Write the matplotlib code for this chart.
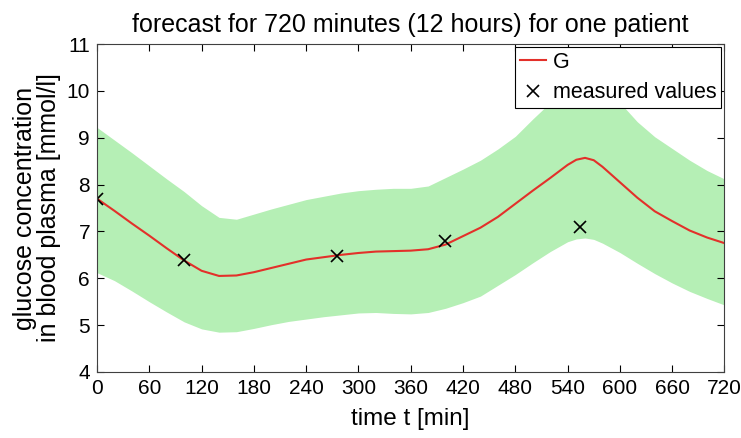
import matplotlib
matplotlib.use("Agg")
import matplotlib.pyplot as plt

plt.rcParams['font.family'] = ['Liberation Sans', 'DejaVu Sans']

# Zeitachse der Prognose (Minuten), um das Maximum etwas feiner
t = [0, 20, 40, 60, 80, 100, 120, 140, 160, 180,
     200, 220, 240, 260, 280, 300, 320, 340, 360, 380,
     400, 420, 440, 460, 480, 500, 520, 540, 550, 560, 570, 580,
     600, 620, 640, 660, 680, 700, 720]

# Prognose G (mmol/l)
g = [7.70, 7.44, 7.17, 6.91, 6.64, 6.38, 6.16, 6.05, 6.06, 6.13,
     6.22, 6.31, 6.40, 6.45, 6.50, 6.54, 6.57, 6.58, 6.59, 6.62,
     6.72, 6.90, 7.08, 7.31, 7.59, 7.87, 8.14, 8.42, 8.53, 8.57, 8.52, 8.38,
     8.05, 7.72, 7.43, 7.22, 7.02, 6.87, 6.75]

# Konfidenzband oben / unten
upper = [9.22, 8.95, 8.68, 8.40, 8.12, 7.85, 7.55, 7.30, 7.26, 7.37,
         7.48, 7.58, 7.68, 7.75, 7.82, 7.87, 7.90, 7.92, 7.92, 7.97,
         8.15, 8.33, 8.52, 8.76, 9.03, 9.40, 9.75, 10.05, 10.15, 10.20, 10.17, 10.10,
         9.75, 9.34, 9.02, 8.77, 8.52, 8.30, 8.12]
lower = [6.12, 5.95, 5.73, 5.50, 5.28, 5.07, 4.92, 4.85, 4.86, 4.93,
         5.01, 5.08, 5.13, 5.18, 5.22, 5.26, 5.27, 5.25, 5.24, 5.27,
         5.36, 5.48, 5.62, 5.85, 6.08, 6.33, 6.57, 6.78, 6.84, 6.86, 6.83, 6.75,
         6.55, 6.32, 6.10, 5.90, 5.72, 5.57, 5.43]

# Messwerte
t_meas = [0, 100, 275, 399, 554]
g_meas = [7.70, 6.38, 6.47, 6.79, 7.10]

fig = plt.figure(figsize=(7.41, 4.38), dpi=100)
ax = fig.add_axes([0.1309, 0.1507, 0.8468, 0.7488])

ax.fill_between(t, lower, upper, color='#b5efb5', linewidth=0)
ax.plot(t, g, color='#e3302a', linewidth=1.5, label='G')
ax.plot(t_meas, g_meas, linestyle='none', marker='x', color='black',
        markersize=8, markeredgewidth=1.2, label='measured values')

ax.set_xlim(0, 720)
ax.set_ylim(4, 11)
ax.set_xticks(range(0, 721, 60))
ax.set_yticks(range(4, 12))
ax.tick_params(direction='in', top=True, right=True, labelsize=15,
               length=5, width=0.8, pad=5)
for s in ax.spines.values():
    s.set_linewidth(0.8)
    s.set_color('#404040')

ax.set_title('forecast for 720 minutes (12 hours) for one patient',
             fontsize=18, pad=9)
ax.set_xlabel('time t [min]', fontsize=17.5, labelpad=7)
ax.set_ylabel('glucose concentration\nin blood plasma [mmol/l]',
              fontsize=18, labelpad=4, linespacing=1.0)

leg = ax.legend(loc='upper right', fontsize=15.5, fancybox=False,
                framealpha=1, edgecolor='black', borderaxespad=0.16,
                handlelength=1.2, handletextpad=0.35, borderpad=0.2,
                labelspacing=0.45)
leg.get_frame().set_linewidth(0.8)

fig.savefig('out.png', dpi=100)
